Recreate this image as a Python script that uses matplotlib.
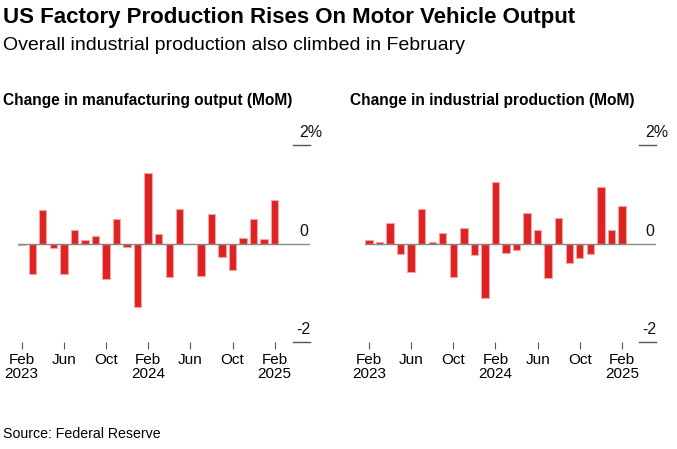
import matplotlib.pyplot as plt
import numpy as np

plt.rcParams['font.family'] = ['Liberation Sans', 'DejaVu Sans']

months = ["Feb\n2023", "Mar", "Apr", "May", "Jun", "Jul", "Aug", "Sep", "Oct", "Nov", "Dec",
          "Jan", "Feb\n2024", "Mar", "Apr", "May", "Jun", "Jul", "Aug", "Sep", "Oct", "Nov", "Dec",
          "Jan", "Feb\n2025"]

manufacturing = [-0.03, -0.61, 0.69, -0.09, -0.61, 0.28, 0.08, 0.16, -0.73, 0.49, -0.07,
                 -1.28, 1.43, 0.20, -0.68, 0.70, -0.02, -0.65, 0.60, -0.28, -0.54, 0.11, 0.50,
                 0.10, 0.89]

industrial = [0.07, 0.03, 0.42, -0.22, -0.57, 0.70, 0.04, 0.22, -0.69, 0.32, -0.23,
              -1.10, 1.25, -0.19, -0.14, 0.62, 0.28, -0.70, 0.51, -0.39, -0.30, -0.22, 1.14,
              0.28, 0.77]

y_ticks = [2, 0, -2]
y_labels = ["2%", "0", "-2"]

W, H = 677, 449
fig = plt.figure(figsize=(W / 100, H / 100), dpi=100)

RED = "#dd2222"
EDGE = "#f3a3a3"


def px_axes(left, right, top, bottom):
    return fig.add_axes([left / W, 1 - bottom / H, (right - left) / W, (bottom - top) / H])


def draw_panel(left, right, first_tick, values, title, title_x):
    ax = px_axes(left, right, 145, 342)
    step = 10.54
    x0 = (left - first_tick) / step
    x1 = (right - first_tick) / step
    x = np.arange(len(values))
    ax.bar(x, values, width=0.7, color=RED, edgecolor=EDGE, linewidth=0.8, zorder=2)
    ax.set_xlim(x0, x1)
    ax.set_ylim(-2, 2)
    ax.axhline(0, color="#888888", linewidth=1.0, zorder=3)
    frac = 1 - 17 / (right - left)
    for yv, lab in zip(y_ticks, y_labels):
        if yv != 0:
            ax.axhline(yv, xmin=frac, xmax=1, color="#555555", linewidth=1.0, clip_on=False)
        dx = -3 if lab.startswith("-") else 0
        ax.annotate(lab, xy=(frac, yv), xycoords=("axes fraction", "data"),
                    xytext=(6 + dx, 5), textcoords="offset pixels",
                    ha="left", va="bottom", fontsize=11.5, color="#111111")
    for s in ax.spines.values():
        s.set_visible(False)
    ax.set_yticks([])
    tick_pos = x[::4]
    ax.set_xticks(tick_pos)
    ax.set_xticklabels([months[i] for i in tick_pos], fontsize=11, linespacing=0.95)
    ax.tick_params(axis="x", length=5, width=0.8, color="#555555", pad=3)
    fig.text(title_x / W, 1 - 100 / H, title, fontsize=11.2, fontweight="bold",
             va="center", ha="left")
    return ax


draw_panel(18, 310, 21.7, manufacturing, "Change in manufacturing output (MoM)", 3)
draw_panel(365, 656, 369, industrial, "Change in industrial production (MoM)", 350)

fig.text(3 / W, 1 - 18 / H, "US Factory Production Rises On Motor Vehicle Output",
         fontsize=16.05, fontweight="bold", va="center", ha="left")
fig.text(3 / W, 1 - 46 / H, "Overall industrial production also climbed in February",
         fontsize=14.0, va="center", ha="left")
fig.text(3 / W, 1 - 434 / H, "Source: Federal Reserve", fontsize=10.2, va="center", ha="left")

fig.savefig("out.png", dpi=100)
